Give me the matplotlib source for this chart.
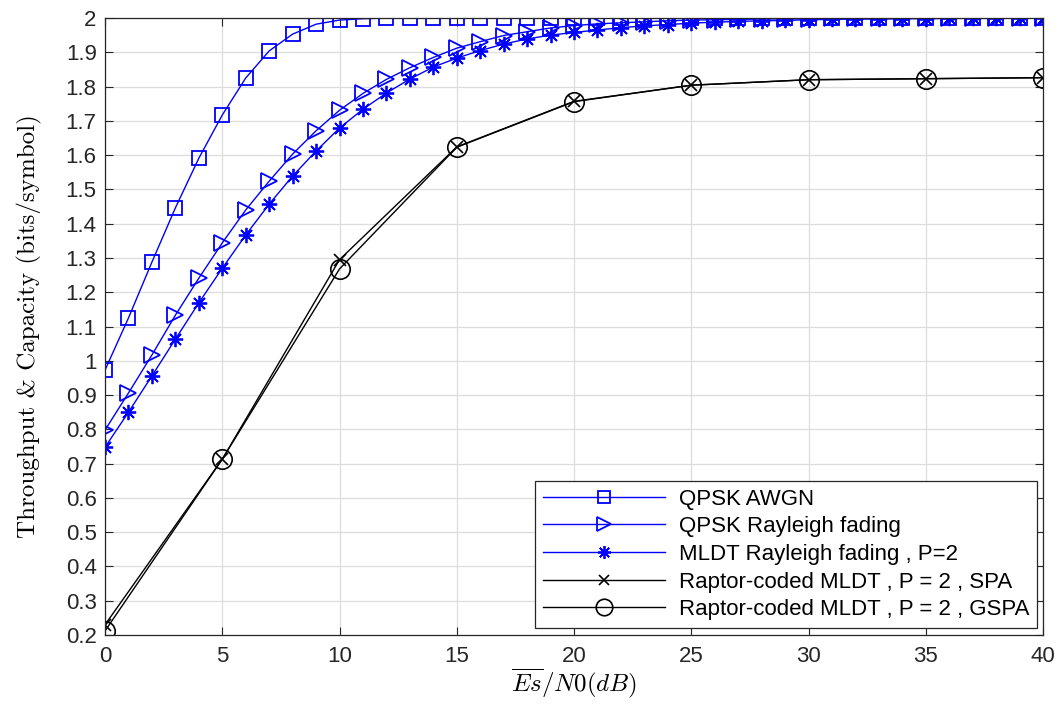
import matplotlib
matplotlib.use('agg')
from matplotlib import pyplot as plt
import numpy as np

# Es/N0 grid (dB)
snr_fine = np.arange(0, 41)
snr_coarse = [0, 5, 10, 15, 20, 25, 30, 35, 40]

qpsk_awgn = [0.973, 1.125, 1.288, 1.446, 1.591, 1.717, 1.825, 1.904, 1.953, 1.982,
             1.994, 1.998, 2.0, 2.0, 2.0, 2.0, 2.0, 2.0, 2.0, 2.0,
             2.0, 2.0, 2.0, 2.0, 2.0, 2.0, 2.0, 2.0, 2.0, 2.0,
             2.0, 2.0, 2.0, 2.0, 2.0, 2.0, 2.0, 2.0, 2.0, 2.0, 2.0]

qpsk_rayleigh = [0.798, 0.906, 1.017, 1.133, 1.241, 1.344, 1.440, 1.524, 1.603, 1.671,
                 1.731, 1.780, 1.821, 1.855, 1.885, 1.912, 1.931, 1.949, 1.960, 1.971,
                 1.978, 1.983, 1.986, 1.989, 1.992, 1.994, 1.995, 1.996, 1.997, 1.998,
                 1.998, 1.999, 1.999, 1.999, 1.999, 2.0, 2.0, 2.0, 2.0, 2.0, 2.0]

mldt_rayleigh = [0.748, 0.850, 0.956, 1.063, 1.169, 1.270, 1.367, 1.457, 1.539, 1.612,
                 1.679, 1.734, 1.781, 1.822, 1.857, 1.883, 1.905, 1.924, 1.939, 1.950,
                 1.958, 1.965, 1.972, 1.977, 1.981, 1.985, 1.988, 1.990, 1.992, 1.993,
                 1.995, 1.996, 1.997, 1.997, 1.998, 1.998, 1.999, 1.999, 1.999, 2.0, 2.0]

raptor_spa = [0.230, 0.713, 1.295, 1.624, 1.757, 1.804, 1.820, 1.823, 1.826]
raptor_gspa = [0.212, 0.713, 1.268, 1.623, 1.756, 1.804, 1.820, 1.823, 1.826]

y_ticks = np.round(np.arange(0.2, 2.01, 0.1), 1)
x_ticks = [0, 5, 10, 15, 20, 25, 30, 35, 40]

plt.rcParams['font.family'] = 'Liberation Sans'
plt.rcParams['mathtext.fontset'] = 'cm'

fig = plt.figure(figsize=(10.62, 7.04), dpi=100)
ax = fig.add_axes([0.0989, 0.098, 0.8832, 0.8764])

blue = '#0000FF'
ax.plot(snr_fine, qpsk_awgn, '-', color=blue, lw=1, marker='s', ms=9.5,
        mfc='none', mec=blue, mew=1.3, label='QPSK AWGN')
ax.plot(snr_fine, qpsk_rayleigh, '-', color=blue, lw=1, marker='>', ms=12,
        mfc='none', mec=blue, mew=1.3, label='QPSK Rayleigh fading')
ax.plot(snr_fine, mldt_rayleigh, '-', color=blue, lw=1, marker=(8, 2, 0), ms=11,
        mec=blue, mew=1.3, label='MLDT Rayleigh fading , P=2')
ax.plot(snr_coarse, raptor_spa, '-', color='black', lw=1, marker='x', ms=9,
        mew=1.2, label='Raptor-coded MLDT , P = 2 , SPA')
ax.plot(snr_coarse, raptor_gspa, '-', color='black', lw=1, marker='o', ms=14,
        mfc='none', mec='black', mew=1.2, label='Raptor-coded MLDT , P = 2 , GSPA')

ax.set_xlim(0, 40)
ax.set_ylim(0.2, 2.0)
ax.set_xticks(x_ticks)
ax.set_yticks(y_ticks)
ax.set_yticklabels([f'{v:g}' for v in y_ticks])
ax.tick_params(direction='in', top=True, right=True, labelsize=16, length=6,
               width=0.8, colors='#262626')
ax.tick_params(axis='x', pad=8)
ax.tick_params(axis='y', pad=6)
for sp in ax.spines.values():
    sp.set_color('#262626')
    sp.set_linewidth(0.9)
ax.grid(True, color='#dcdcdc', lw=0.9)
ax.set_axisbelow(True)

ax.set_xlabel(r'$\overline{Es}/N0(dB)$', fontsize=18, labelpad=0)
ax.set_ylabel('Throughput & Capacity (bits/symbol)', family='cmr10',
              fontsize=18, labelpad=17)

leg = ax.legend(loc='lower right', bbox_to_anchor=(0.9936, 0.0113), borderaxespad=0,
                fontsize=16, handlelength=5.5, labelspacing=0.3, fancybox=False,
                framealpha=1, edgecolor='#262626', borderpad=0.35, handletextpad=0.6,
                markerscale=0.85)
leg.get_frame().set_linewidth(0.9)

plt.savefig('out.png', dpi=100)
plt.close()
